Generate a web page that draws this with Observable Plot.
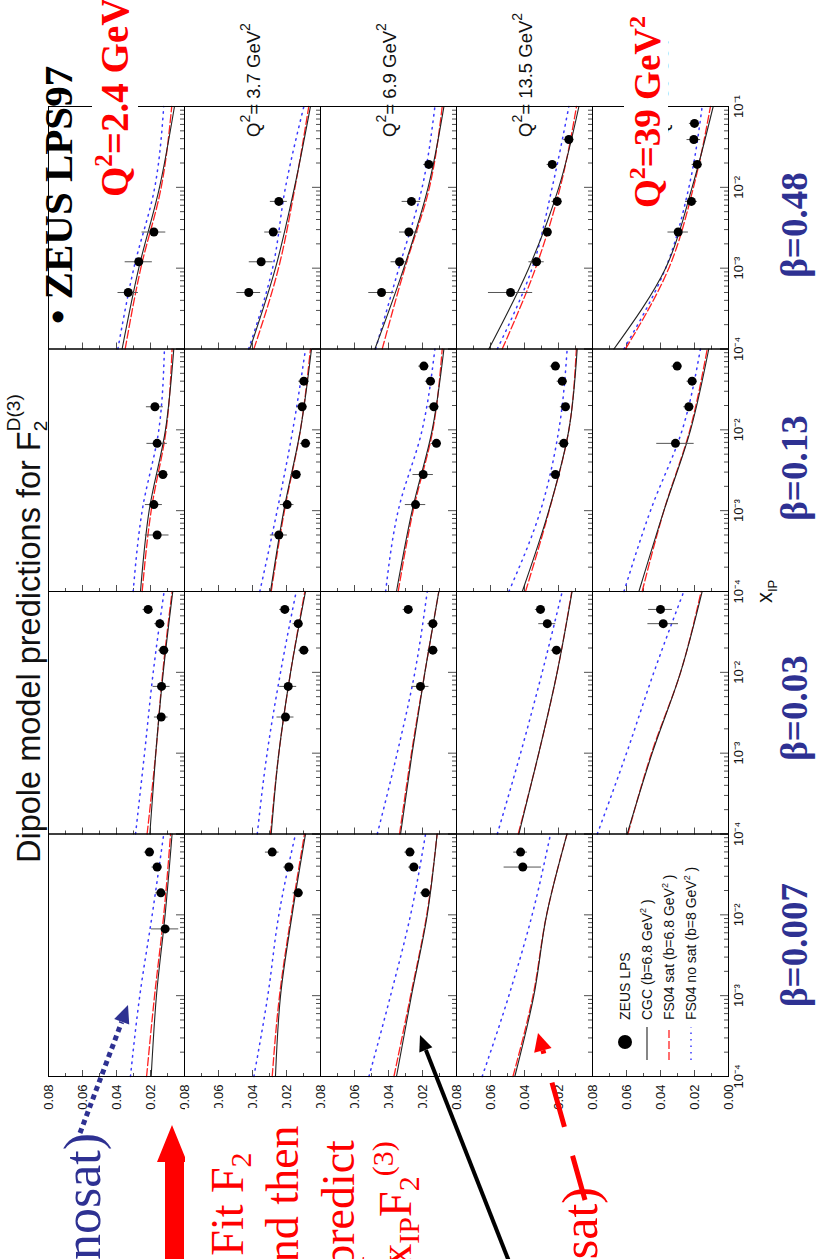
<!DOCTYPE html>
<html><head><meta charset="utf-8">
<script src="https://cdn.jsdelivr.net/npm/d3@7"></script>
<script src="https://cdn.jsdelivr.net/npm/@observablehq/plot@0.6"></script>
<style>
html,body{margin:0;padding:0;background:#fff;overflow:hidden;width:825px;height:1259px;}
#page{position:absolute;left:0;top:0;width:1259px;height:825px;transform-origin:0 0;transform:translate(0px,1259px) rotate(-90deg);background:#fff;}
#page svg{position:absolute;left:0;top:0;}
</style></head><body><div id="page"></div>
<script>
// ---------------- data ----------------
const betas = [0.007, 0.03, 0.13, 0.48];
const q2s = [2.4, 3.7, 6.9, 13.5, 39];
const betaLabels = ["β=0.007", "β=0.03", "β=0.13", "β=0.48"];
const xTickValues = [1e-4, 1e-3, 1e-2, 1e-1];
const yTickValues = [0.02, 0.04, 0.06, 0.08];
const curveX = [1e-4, 1e-3, 1e-2, 1e-1];

// panels (Q², β) that hold curves and points
const panelQ2 = [2.4,2.4,2.4,2.4, 3.7,3.7,3.7,3.7, 6.9,6.9,6.9,6.9, 13.5,13.5,13.5,13.5, 39,39,39];
const panelBeta = [0.007,0.03,0.13,0.48, 0.007,0.03,0.13,0.48, 0.007,0.03,0.13,0.48, 0.007,0.03,0.13,0.48, 0.03,0.13,0.48];

// model curves: x_IP F2^D(3) at x_IP = 1e-4, 1e-3, 1e-2, 1e-1
const cgcF = [
 [0.0196,0.0165,0.0114,0.0073],
 [0.0204,0.0169,0.0125,0.0069],
 [0.0259,0.0208,0.0112,0.0063],
 [0.0367,0.0269,0.0147,0.0059],
 [0.0265,0.0235,0.0167,0.0088],
 [0.0290,0.0245,0.0176,0.0088],
 [0.0294,0.0216,0.0118,0.0053],
 [0.0416,0.0265,0.0153,0.0059],
 [0.0353,0.0265,0.0172,0.0114],
 [0.0329,0.0261,0.0186,0.0104],
 [0.0353,0.0261,0.0143,0.0074],
 [0.0480,0.0310,0.0167,0.0074],
 [0.0457,0.0345,0.0270,0.0150],
 [0.0433,0.0316,0.0208,0.0120],
 [0.0413,0.0257,0.0139,0.0090],
 [0.0610,0.0375,0.0198,0.0080],
 [0.0596,0.0449,0.0282,0.0155],
 [0.0527,0.0380,0.0223,0.0116],
 [0.0674,0.0370,0.0214,0.0090]
];
const satF = [
 [0.0223,0.0176,0.0122,0.0082],
 [0.0220,0.0169,0.0128,0.0073],
 [0.0249,0.0196,0.0108,0.0073],
 [0.0349,0.0257,0.0137,0.0075],
 [0.0284,0.0241,0.0172,0.0094],
 [0.0294,0.0245,0.0176,0.0092],
 [0.0290,0.0212,0.0118,0.0059],
 [0.0392,0.0247,0.0150,0.0069],
 [0.0368,0.0270,0.0175,0.0114],
 [0.0335,0.0265,0.0186,0.0104],
 [0.0343,0.0255,0.0139,0.0084],
 [0.0437,0.0304,0.0159,0.0084],
 [0.0468,0.0350,0.0270,0.0150],
 [0.0437,0.0316,0.0208,0.0122],
 [0.0394,0.0255,0.0139,0.0095],
 [0.0531,0.0335,0.0190,0.0094],
 [0.0592,0.0453,0.0282,0.0161],
 [0.0508,0.0380,0.0227,0.0125],
 [0.0606,0.0351,0.0206,0.0106]
];
const nosatF = [
 [0.0318,0.0263,0.0190,0.0122],
 [0.0288,0.0235,0.0184,0.0120],
 [0.0302,0.0249,0.0151,0.0118],
 [0.0392,0.0298,0.0175,0.0122],
 [0.0392,0.0310,0.0245,0.0147],
 [0.0372,0.0314,0.0235,0.0143],
 [0.0357,0.0255,0.0163,0.0088],
 [0.0423,0.0282,0.0206,0.0098],
 [0.0515,0.0388,0.0270,0.0182],
 [0.0466,0.0349,0.0245,0.0172],
 [0.0417,0.0343,0.0202,0.0127],
 [0.0476,0.0339,0.0202,0.0127],
 [0.0649,0.0492,0.0355,0.0247],
 [0.0560,0.0423,0.0296,0.0178],
 [0.0492,0.0306,0.0198,0.0149],
 [0.0560,0.0355,0.0237,0.0139],
 [0.0772,0.0600,0.0439,0.0263],
 [0.0615,0.0459,0.0272,0.0165],
 [0.0615,0.0370,0.0233,0.0155]
];

// ZEUS LPS data points per panel
const ptX = [
 [0.0597,0.039,0.0187,0.0067],
 [0.06,0.040,0.0188,0.0067,0.0028],
 [0.0193,0.0068,0.0028,0.00119,0.0005],
 [0.0028,0.0012,0.0005],
 [0.0597,0.039,0.0187],
 [0.06,0.040,0.0188,0.0067,0.0028],
 [0.040,0.0193,0.0068,0.0028,0.00119,0.0005],
 [0.0005,0.0012,0.0028,0.0067],
 [0.0597,0.039,0.0187],
 [0.06,0.040,0.0188,0.0067],
 [0.0614,0.040,0.0193,0.0068,0.0028,0.00119],
 [0.0005,0.0012,0.0028,0.0067,0.0192],
 [0.0597,0.039],
 [0.06,0.040,0.0188],
 [0.0614,0.040,0.0193,0.0068,0.0028],
 [0.0005,0.0012,0.0028,0.0067,0.0192,0.039],
 [0.06,0.040],
 [0.0614,0.040,0.0193,0.0068],
 [0.0028,0.0067,0.0192,0.039,0.0618]
];
const ptF = [
 [0.0206,0.0161,0.0139,0.0114],
 [0.0214,0.0145,0.0122,0.0135,0.0137],
 [0.0174,0.0161,0.0127,0.0180,0.0161],
 [0.0180,0.0269,0.0331],
 [0.0284,0.0186,0.0131],
 [0.0210,0.0131,0.0098,0.0190,0.0206],
 [0.0098,0.0108,0.0088,0.0143,0.0196,0.0245],
 [0.0422,0.0349,0.0278,0.0245],
 [0.0274,0.0251,0.0182],
 [0.0284,0.0139,0.0139,0.0212],
 [0.0192,0.0153,0.0133,0.0118,0.0196,0.0241],
 [0.0441,0.0335,0.0280,0.0265,0.0163],
 [0.0423,0.0410],
 [0.0306,0.0266,0.0212],
 [0.0218,0.0178,0.0159,0.0169,0.0218],
 [0.0482,0.0329,0.0266,0.0208,0.0237,0.0139],
 [0.0400,0.0384],
 [0.0302,0.0214,0.0233,0.0312],
 [0.0296,0.0218,0.0184,0.0204,0.0200]
];
const ptErr = [
 [0.003,0.003,0.003,0.008],
 [0.003,0.003,0.003,0.005,0.004],
 [0.005,0.006,0.003,0.005,0.007],
 [0.007,0.008,0.006],
 [0.004,0.003,0.003],
 [0.003,0.003,0.003,0.005,0.005],
 [0.003,0.003,0.003,0.003,0.004,0.005],
 [0.007,0.007,0.005,0.005],
 [0.003,0.003,0.003],
 [0.003,0.003,0.003,0.005],
 [0.003,0.003,0.003,0.003,0.006,0.006],
 [0.0075,0.005,0.0055,0.0055,0.003],
 [0.004,0.011],
 [0.003,0.005,0.003],
 [0.003,0.003,0.003,0.003,0.003],
 [0.013,0.0045,0.003,0.003,0.003,0.003],
 [0.007,0.009],
 [0.003,0.003,0.003,0.011],
 [0.006,0.0035,0.003,0.004,0.003]
];

// ---------------- layout ----------------
const W = 1259, H = 825;
const mL = 182, mR = 107, mT = 48, mB = 97;
const panelW = (W - mL - mR) / betas.length;
const panelH = (H - mT - mB) / q2s.length;

const curveRows = (arr) => arr.flatMap((vals, i) => vals.map((f, j) => ({q2: panelQ2[i], beta: panelBeta[i], x: curveX[j], f, panel: i})));
const cgcRows = curveRows(cgcF), satRows = curveRows(satF), nosatRows = curveRows(nosatF);
const points = ptX.flatMap((xs, i) => xs.map((x, j) => ({q2: panelQ2[i], beta: panelBeta[i], x, f: ptF[i][j], e: ptErr[i][j]})));

const xMinor = [1e-4, 1e-3, 1e-2].flatMap(d => [2,3,4,5,6,7,8,9].map(k => d * k));
const yMinor = [0.01, 0.03, 0.05, 0.07];
const supDigits = {"-":"⁻","0":"⁰","1":"¹","2":"²","3":"³","4":"⁴","5":"⁵","6":"⁶","7":"⁷","8":"⁸","9":"⁹"};
const fmtPow = d => "10" + String(Math.round(Math.log10(d))).split("").map(c => supDigits[c]).join("");
const xTickLabels = betas.flatMap((b, i) => xTickValues.filter(t => t < 0.1 || i === betas.length - 1).map(t => ({beta: b, x: t})));

const plot = Plot.plot({
  width: W, height: H,
  marginLeft: mL, marginRight: mR, marginTop: mT, marginBottom: mB,
  style: {fontFamily: "'Liberation Sans', Arial, sans-serif", fontSize: "13px", background: "white", color: "#111"},
  x: {type: "log", domain: [1e-4, 1e-1], axis: null},
  y: {domain: [0, 0.08]},
  fx: {domain: betas, padding: 0, round: false, axis: null},
  fy: {domain: q2s, padding: 0, round: false, axis: null},
  marks: [
    Plot.tickX(xMinor, {x: d => d, insetTop: panelH - 4, stroke: "#222", strokeWidth: 0.8}),
    Plot.tickX(xTickValues, {x: d => d, insetTop: panelH - 8, stroke: "#222", strokeWidth: 0.8}),
    Plot.tickY(yMinor, {y: d => d, insetRight: panelW - 4, stroke: "#222", strokeWidth: 0.8}),
    Plot.tickY(yTickValues, {y: d => d, insetRight: panelW - 7, stroke: "#222", strokeWidth: 0.8}),
    Plot.line(nosatRows, {x: "x", y: "f", fx: "beta", fy: "q2", z: "panel", stroke: "#3a3aff", strokeWidth: 1.5, strokeDasharray: "1.5,5", curve: "monotone-x"}),
    Plot.line(satRows, {x: "x", y: "f", fx: "beta", fy: "q2", z: "panel", stroke: "#ff2020", strokeWidth: 1.3, strokeDasharray: "8,3", curve: "monotone-x"}),
    Plot.line(cgcRows, {x: "x", y: "f", fx: "beta", fy: "q2", z: "panel", stroke: "#222", strokeWidth: 1.1, curve: "monotone-x"}),
    Plot.ruleX(points, {x: "x", y1: d => d.f - d.e, y2: d => d.f + d.e, fx: "beta", fy: "q2", stroke: "#555", strokeWidth: 1}),
    Plot.dot(points, {x: "x", y: "f", fx: "beta", fy: "q2", r: 4.5, fill: "#000", stroke: "none"}),
    Plot.frame({stroke: "#000", strokeWidth: 1}),
    Plot.axisY(yTickValues, {tickFormat: d => d.toFixed(2), tickSize: 0, tickPadding: 8, label: null}),
    Plot.text([0], {y: d => d, fx: () => betas[0], fy: () => q2s[q2s.length - 1], frameAnchor: "left", dx: -8, textAnchor: "end", text: d => d.toFixed(2)}),
    Plot.text(xTickLabels, {x: "x", fx: "beta", fy: () => q2s[q2s.length - 1], frameAnchor: "bottom", lineAnchor: "top", dy: 5, text: d => fmtPow(d.x)})
  ]
});
const page = document.getElementById("page");
page.appendChild(plot);

// ---------------- annotation overlay ----------------
const sans = "'Liberation Sans', Arial, sans-serif";
const serif = "'Liberation Serif', 'Times New Roman', serif";
const navy = "#2e3192";
const legX = mL, legY = mT + panelH * (q2s.length - 1);

let o = `<svg xmlns="http://www.w3.org/2000/svg" width="${W}" height="${H}" style="overflow:visible">`;
// per-row Q² labels (plot's own labels, right of the last column)
q2s.forEach((q, i) => {
  o += `<text x="${W - mR - 30}" y="${mT + panelH * i + 76}" font-family="${sans}" font-size="18.5" fill="#111">Q<tspan font-size="14" dy="-10">2</tspan><tspan dy="10">= ${q} GeV</tspan><tspan font-size="14" dy="-10">2</tspan></text>`;
});
// title
o += `<text x="396" y="40" font-family="${sans}" font-size="32.5" fill="#111">Dipole model predictions for F<tspan font-size="19" dy="7">2</tspan><tspan font-size="19" dx="-10.5" dy="-27">D(3)</tspan></text>`;
// x axis label
o += `<text x="${mL + panelW * 2 - 11}" y="772" font-family="${sans}" font-size="22" fill="#111">x<tspan font-size="13" dy="5">IP</tspan></text>`;
// legend
o += `<circle cx="${legX + 35}" cy="${legY + 33}" r="7" fill="#000"/>`;
o += `<text x="${legX + 57}" y="${legY + 38}" font-family="${sans}" font-size="14" fill="#111">ZEUS LPS</text>`;
o += `<line x1="${legX + 17}" x2="${legX + 50}" y1="${legY + 55}" y2="${legY + 55}" stroke="#222" stroke-width="1.1"/>`;
o += `<text x="${legX + 57}" y="${legY + 60}" font-family="${sans}" font-size="14" fill="#111">CGC (b=6.8 GeV<tspan font-size="9" dy="-6">2</tspan><tspan dy="6"> )</tspan></text>`;
o += `<line x1="${legX + 17}" x2="${legX + 50}" y1="${legY + 77}" y2="${legY + 77}" stroke="#ff2020" stroke-width="1.3" stroke-dasharray="8,3"/>`;
o += `<text x="${legX + 57}" y="${legY + 82}" font-family="${sans}" font-size="14" fill="#111">FS04 sat (b=6.8 GeV<tspan font-size="9" dy="-6">2</tspan><tspan dy="6"> )</tspan></text>`;
o += `<line x1="${legX + 17}" x2="${legX + 50}" y1="${legY + 99}" y2="${legY + 99}" stroke="#3a3aff" stroke-width="1.5" stroke-dasharray="1.5,5"/>`;
o += `<text x="${legX + 57}" y="${legY + 104}" font-family="${sans}" font-size="14" fill="#111">FS04 no sat (b=8 GeV<tspan font-size="9" dy="-6">2</tspan><tspan dy="6"> )</tspan></text>`;
// beta labels
const betaCenters = [314, 551, 791, 1034];
betaLabels.forEach((t, i) => {
  o += `<text x="${betaCenters[i]}" y="807" text-anchor="middle" font-family="${serif}" font-weight="bold" font-size="37" fill="${navy}">${t}</text>`;
});
// ZEUS LPS97 and Q² slide labels
o += `<text x="935" y="72" font-family="${serif}" font-weight="bold" font-size="41" fill="#000">• ZEUS LPS97</text>`;
o += `<rect x="1056" y="92" width="210" height="46" fill="#fff"/>`;
o += `<text x="1062" y="128" font-family="${serif}" font-weight="bold" font-size="39" fill="#ff0000">Q<tspan font-size="25" dy="-16">2</tspan><tspan dy="16">=2.4 GeV</tspan><tspan font-size="25" dy="-16">2</tspan></text>`;
o += `<rect x="1045" y="624" width="210" height="44" fill="#fff"/>`;
o += `<text x="1051" y="660" font-family="${serif}" font-weight="bold" font-size="37" fill="#ff0000">Q<tspan font-size="24" dy="-15">2</tspan><tspan dy="15">=39 GeV</tspan><tspan font-size="24" dy="-15">2</tspan></text>`;
// big red arrow
o += `<polygon points="-10,165 97,165 97,157 134,172 97,187 97,184 -10,184" fill="#ff0000"/>`;
// white box of the red text
o += `<rect x="-20" y="185" width="171" height="252" fill="#fff"/>`;
o += `<g font-family="${serif}" font-size="46" fill="#ff0000" text-anchor="middle">`;
o += `<text x="55" y="243">Fit F<tspan font-size="30" dy="8">2</tspan></text>`;
o += `<text x="55" y="298">and then</text>`;
o += `<text x="55" y="354">predict</text>`;
o += `<text x="55" y="411">x<tspan font-size="30" dy="8">IP</tspan><tspan dy="-8">F</tspan><tspan font-size="30" dy="8">2</tspan><tspan font-size="30" dy="-26">(3)</tspan></text>`;
o += `</g>`;
// blue dotted arrow + (nosat)
o += `<line x1="126" y1="80" x2="237" y2="121.7" stroke="${navy}" stroke-width="5" stroke-dasharray="5,4"/>`;
o += `<polygon points="254,128 234.4,129.2 240,114.2" fill="${navy}"/>`;
o += `<text x="126" y="100" text-anchor="end" font-family="${serif}" font-size="52" fill="${navy}">(nosat)</text>`;
// red dashed arrow + (sat)
o += `<line x1="59" y1="585" x2="208.7" y2="542.9" stroke="#ff0000" stroke-width="5" stroke-dasharray="46,30"/>`;
o += `<polygon points="226,538 211.1,551.6 206.3,534.2" fill="#ff0000"/>`;
o += `<text x="72" y="597" text-anchor="end" font-family="${serif}" font-size="50" fill="#ff0000">(sat)</text>`;
// black arrow
o += `<line x1="-10" y1="512" x2="209" y2="425.9" stroke="#000" stroke-width="4"/>`;
o += `<polygon points="224,420 211.7,432.4 206.5,419.3" fill="#000"/>`;
o += `</svg>`;
page.insertAdjacentHTML("beforeend", o);
</script></body></html>
